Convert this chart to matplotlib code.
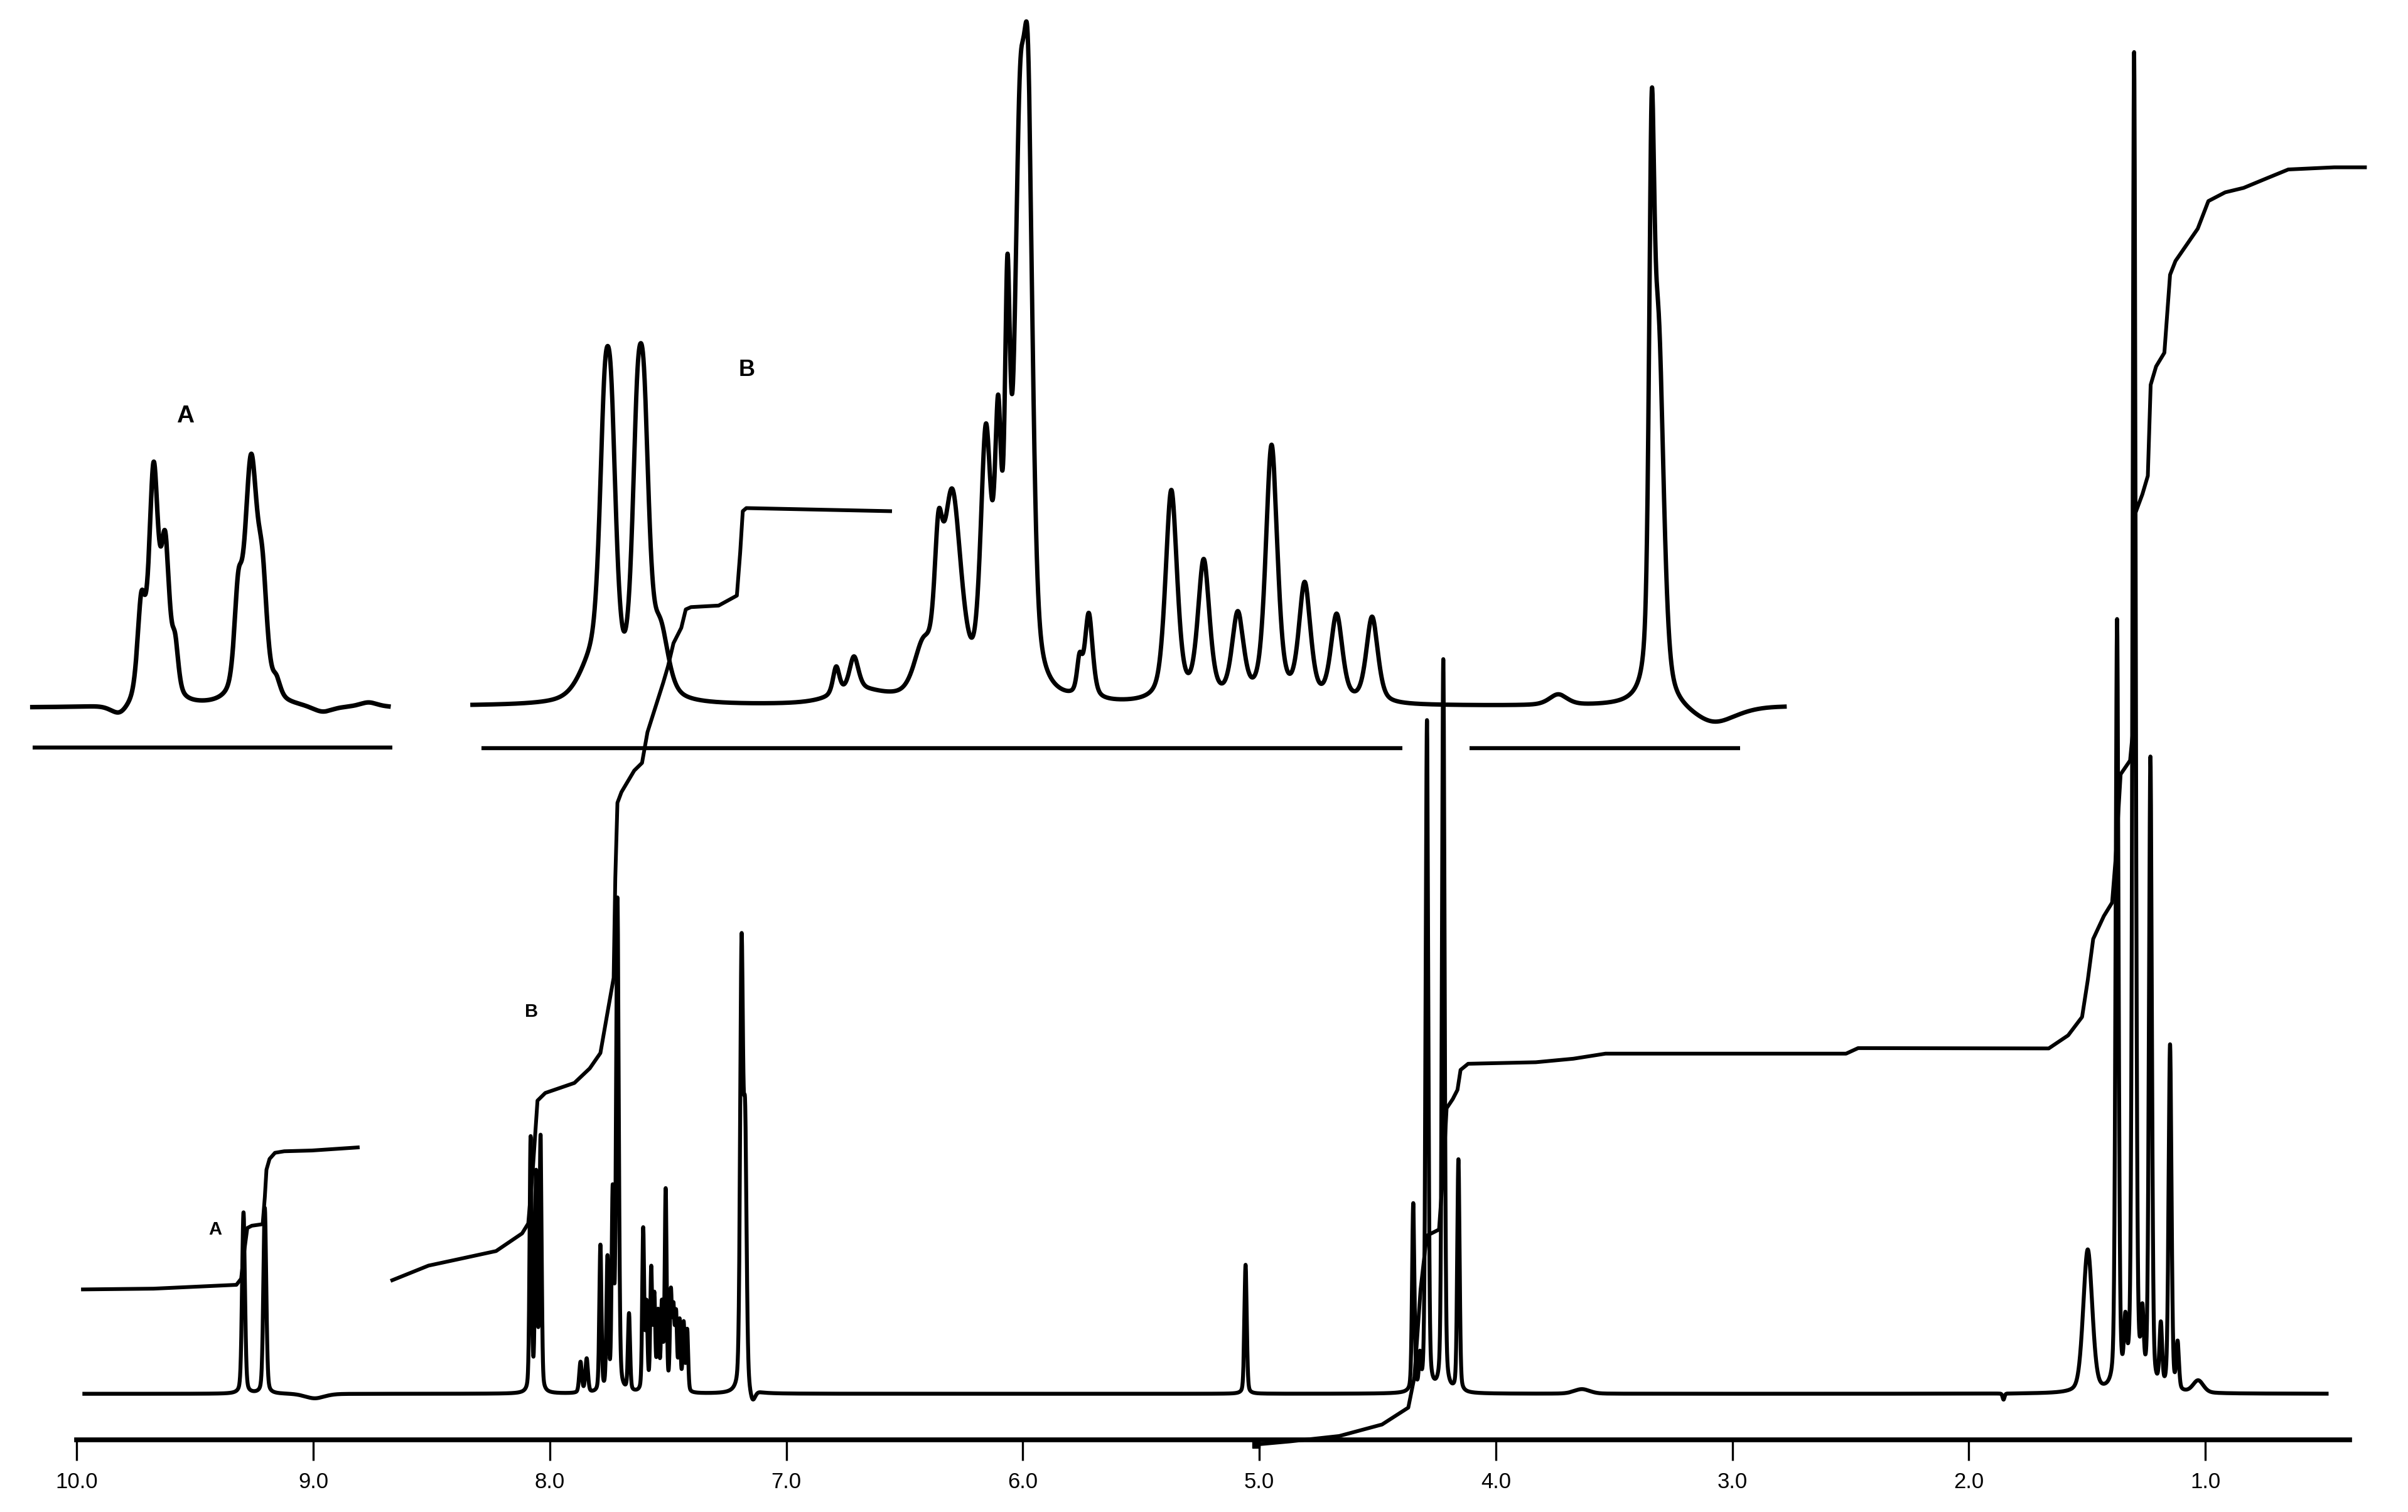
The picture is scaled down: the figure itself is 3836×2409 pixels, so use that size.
import numpy as np
import matplotlib.pyplot as plt

# ---------------- main 1H spectrum (ppm, height, width in ppm) ----------------
main_shift = [9.295, 9.205,
              8.081, 8.058, 8.039,
              7.870, 7.844,
              7.786, 7.756, 7.734, 7.714, 7.665,
              7.605, 7.591, 7.571, 7.558, 7.542, 7.526, 7.510, 7.488, 7.477, 7.466, 7.451, 7.434, 7.419,
              7.189, 7.174, 7.143,
              5.058,
              4.349, 4.321, 4.291, 4.222, 4.158,
              1.497, 1.373, 1.338, 1.301, 1.266, 1.232, 1.188, 1.149, 1.117,
              8.994, 3.636, 1.853, 1.030]
main_height = [118, 121,
               165, 140, 165,
               20, 22,
               95, 85, 125, 320, 50,
               105, 55, 78, 60, 50, 55, 130, 62, 50, 48, 45, 44, 40,
               285, 165, -8,
               84,
               122, 20, 437, 477, 151,
               93, 500, 35, 870, 40, 410, 40, 225, 30,
               -3, 3, -4, 8]
main_width = [0.0143, 0.0143,
              0.0104, 0.0104, 0.0104,
              0.013, 0.013,
              0.0104, 0.0104, 0.0104, 0.013, 0.0104,
              0.0097, 0.0097, 0.0097, 0.0097, 0.0097, 0.0097, 0.0097, 0.0097, 0.0097, 0.0097, 0.0097, 0.0097, 0.0097,
              0.0143, 0.0143, 0.026,
              0.0117,
              0.0117, 0.0097, 0.013, 0.013, 0.0117,
              0.045, 0.0143, 0.013, 0.0156, 0.013, 0.0143, 0.013, 0.0143, 0.013,
              0.097, 0.078, 0.0097, 0.052]
main_range = (0.487, 9.968)

# ---------------- expansion A (drawn above, own baseline) ----------------
insA_shift = [9.675, 9.626, 9.727, 9.584,
              9.263, 9.318, 9.214, 9.156,
              9.818, 8.961, 8.766]
insA_height = [147, 95, 60, 30,
               155, 55, 60, 10,
               -7, -4, 3]
insA_width = [0.0455, 0.042, 0.039, 0.0325,
              0.065, 0.039, 0.0455, 0.039,
              0.091, 0.104, 0.091]
insA_base = 447
insA_range = (8.682, 10.188)

# ---------------- expansion B (drawn above, own baseline) ----------------
insB_shift = [7.769, 7.740, 7.630, 7.601, 7.532, 7.825,
              6.789, 6.714, 6.688,
              6.422, 6.357, 6.299, 6.156, 6.104, 6.065, 6.013, 5.977,
              5.760, 5.721,
              5.372, 5.235, 5.091, 4.948, 4.808, 4.673, 4.523,
              3.736, 3.341, 3.312, 3.080]
insB_height = [140, 140, 144, 144, 40, 20,
               18, 22, 8,
               30, 68, 130, 160, 149, 220, 322, 322,
               22, 55,
               137, 90, 55, 166, 75, 56, 56,
               7, 300, 230, -12]
insB_width = [0.052, 0.052, 0.052, 0.052, 0.078, 0.13,
              0.0325, 0.0455, 0.26,
              0.091, 0.039, 0.091, 0.052, 0.0325, 0.026, 0.052, 0.0455,
              0.026, 0.039,
              0.058, 0.058, 0.058, 0.058, 0.058, 0.058, 0.058,
              0.091, 0.026, 0.052, 0.23]
insB_base = 448
insB_range = (2.779, 8.327)

# ---------------- integral traces (ppm, height) ----------------
intA_ppm = [9.974, 9.675, 9.325, 9.305, 9.292, 9.279, 9.260, 9.214, 9.205, 9.198,
            9.185, 9.162, 9.123, 9.006, 8.812]
intA_val = [68, 68.5, 71, 75, 93, 108, 109.5, 110.5, 128, 146,
            153, 157, 158, 158.5, 160.5]

intB_ppm = [8.666, 8.513, 8.377, 8.227, 8.117, 8.091, 8.071, 8.052, 8.019, 7.981,
            7.896, 7.831, 7.786, 7.753, 7.730, 7.723, 7.714, 7.697, 7.643, 7.610,
            7.587, 7.554, 7.521, 7.500, 7.477, 7.444, 7.425, 7.403, 7.286, 7.209,
            7.195, 7.184, 7.169, 6.866, 6.561]
intB_val = [74, 83.5, 88, 93, 104.5, 111, 148, 191, 196, 198,
            202.5, 212, 222, 251, 271, 336, 385, 392, 406, 411,
            431, 447, 463, 474, 489, 499, 511, 512.5, 513.5, 520,
            548, 575, 577, 576, 575]

intC_ppm = [5.013, 4.870, 4.662, 4.481, 4.370, 4.344, 4.318, 4.292, 4.240, 4.221,
            4.208, 4.182, 4.162, 4.149, 4.117, 3.831, 3.672, 3.536, 2.519, 2.468,
            1.662, 1.580, 1.521, 1.497, 1.474, 1.429, 1.394, 1.380, 1.358, 1.318,
            1.307, 1.295, 1.266, 1.243, 1.231, 1.208, 1.173, 1.149, 1.126, 1.032,
            0.987, 0.916, 0.838, 0.744, 0.649, 0.455, 0.325]
intC_val = [-33, -31, -27.5, -20, -9, 11, 68, 103, 107, 148,
            186, 192, 198, 211, 215, 216, 218.3, 221.6, 221.6, 225.2,
            225, 233.5, 245.5, 269.4, 296.3, 311.2, 320, 347, 403.6, 412.6,
            430.5, 574, 586, 598, 657.3, 669.3, 678.2, 729, 738, 759,
            777, 782.7, 785.6, 791.6, 797.6, 799, 799]

# reference lines under the expansions: (start ppm, end ppm, level)
bar_start = [10.188, 8.288, 4.110]
bar_end = [8.665, 4.396, 2.968]
bar_level = [421, 420.5, 420.5]

tick_pos = [10, 9, 8, 7, 6, 5, 4, 3, 2, 1]
tick_txt = ['10.0', '9.0', '8.0', '7.0', '6.0', '5.0', '4.0', '3.0', '2.0', '1.0']


def lines(ppm, shifts, heights, widths, eta):
    y = np.zeros_like(ppm)
    for c, h, w in zip(shifts, heights, widths):
        d = (ppm - c) / (w / 2.0)
        y += h * ((1 - eta) * np.exp(-np.log(2) * d ** 2) + eta / (1 + d ** 2))
    return y


fig = plt.figure(figsize=(38.36, 24.09), dpi=100)
ax = fig.add_axes([0, 0, 1, 1])
ax.set_xlim(10.3247, 0.1429)
ax.set_ylim(-77, 908)

ink = 'black'

# main trace
x = np.linspace(main_range[0], main_range[1], 60000)
ax.plot(x, lines(x, main_shift, main_height, main_width, 0.3), color=ink, lw=4.5)

# expansions
x = np.linspace(insA_range[0], insA_range[1], 12000)
ax.plot(x, insA_base + lines(x, insA_shift, insA_height, insA_width, 0.5), color=ink, lw=5.2)
x = np.linspace(insB_range[0], insB_range[1], 40000)
ax.plot(x, insB_base + lines(x, insB_shift, insB_height, insB_width, 0.5), color=ink, lw=5.0)

for a, b, lv in zip(bar_start, bar_end, bar_level):
    ax.plot([a, b], [lv, lv], color=ink, lw=4.6, solid_capstyle='butt')

# integrals
ax.plot(intA_ppm, intA_val, color=ink, lw=4.3)
ax.plot(intB_ppm, intB_val, color=ink, lw=4.3)
ax.plot(intC_ppm, intC_val, color=ink, lw=4.3)
ax.plot(intC_ppm[0], intC_val[0], marker='s', ms=9, color=ink)

# labels
ax.text(9.542, 637, 'A', fontsize=28, fontweight='bold', ha='center', va='center', family='Liberation Sans')
ax.text(7.166, 667, 'B', fontsize=26, fontweight='bold', ha='center', va='center', family='Liberation Sans')
ax.text(9.416, 107, 'A', fontsize=21, fontweight='bold', ha='center', va='center', family='Liberation Sans')
ax.text(8.078, 249, 'B', fontsize=21, fontweight='bold', ha='center', va='center', family='Liberation Sans')

# ppm axis
for s in ['top', 'right', 'left']:
    ax.spines[s].set_visible(False)
ax.spines['bottom'].set_position(('data', -30))
ax.spines['bottom'].set_bounds(0.39, 10.0)
ax.spines['bottom'].set_linewidth(5.5)
ax.set_xticks(tick_pos)
ax.set_xticklabels(tick_txt, family='Liberation Sans')
ax.tick_params(axis='x', direction='out', length=24, width=2.4, pad=13, labelsize=25)
ax.set_yticks([])
ax.patch.set_alpha(0)

fig.savefig('out.png', dpi=100, facecolor='white')
